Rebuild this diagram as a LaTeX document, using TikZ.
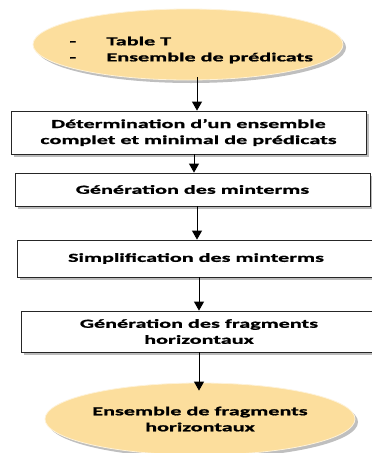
\documentclass[tikz,border=0pt]{standalone}
\usepackage{fontspec}
\newfontfamily\flowfont{Carlito}[FakeStretch=1.8,FakeBold=1.2]
\usetikzlibrary{arrows.meta,shadows,shapes.geometric}
\definecolor{termfill}{HTML}{FCDE9D}
\definecolor{shadowgray}{HTML}{B4B4B4}
\begin{document}
\begin{tikzpicture}[x=1pt,y=-1pt,
  every node/.style={font=\flowfont\bfseries\fontsize{12.3}{16}\selectfont, text=black},
  terminal/.style={ellipse, fill=termfill, draw=white!60!termfill, line width=0.8pt,
    inner sep=0pt,
    drop shadow={shadow xshift=3pt, shadow yshift=-3pt, fill=shadowgray, opacity=0.85}},
  stepbox/.style={rectangle, draw=black!85, line width=0.8pt, fill=white,
    inner sep=0pt, align=center,
    drop shadow={shadow xshift=2.5pt, shadow yshift=-2.5pt, fill=shadowgray, opacity=0.9}},
  arr/.style={-{Triangle[width=10pt,length=9pt]}, line width=0.9pt, black}]
\useasboundingbox (0,0) rectangle (372,453);
\fill[white] (0,0) rectangle (372,453);

% input and output ellipses
\node[terminal, minimum width=310pt, minimum height=71pt] (in) at (188,44.5) {};
\node[align=left, anchor=west] (inlabel) at (66,50)
  {\makebox[37pt][l]{-}Table T\\ \makebox[37pt][l]{-}Ensemble de prédicats};
\node[terminal, minimum width=310pt, minimum height=72pt, align=center] (out) at (200,419)
  {Ensemble de fragments\\horizontaux};

% processing steps
\node[stepbox, minimum width=355pt, minimum height=43pt] (s1) at (188.5,132.5)
  {Détermination d’un ensemble\\complet et minimal de prédicats};
\node[stepbox, minimum width=355pt, minimum height=33pt] (s2) at (192.5,189.5)
  {Génération des minterms};
\node[stepbox, minimum width=358pt, minimum height=37pt] (s3) at (196,258.5)
  {Simplification des minterms};
\node[stepbox, minimum width=356pt, minimum height=41pt] (s4) at (199,331.5)
  {Génération des fragments\\horizontaux};

% connectors
\draw[arr] ([xshift=9pt,yshift=3pt]in.south) -- ([xshift=9pt]in.south |- s1.north);
\draw[arr] ([xshift=5.5pt]s1.south) -- ([xshift=5.5pt]s1.south |- s2.north);
\draw[arr] ([xshift=4.5pt]s2.south) -- ([xshift=4.5pt]s2.south |- s3.north);
\draw[arr] ([xshift=3pt]s3.south) -- ([xshift=3pt]s3.south |- s4.north);
\draw[arr] (s4.south) -- ([yshift=-8pt]s4.south |- out.north);
\end{tikzpicture}
\end{document}
